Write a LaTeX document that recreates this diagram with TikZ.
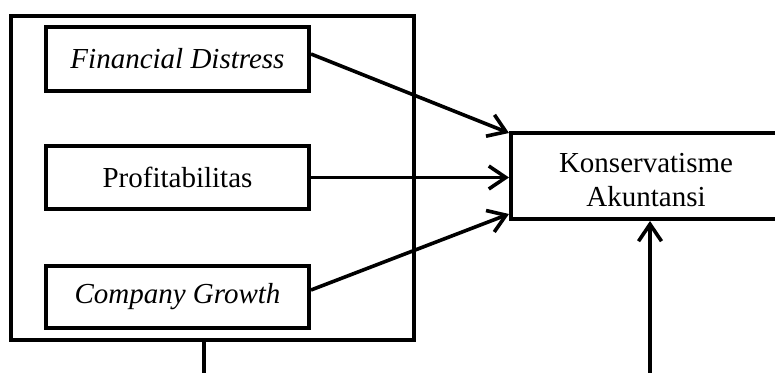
\documentclass[tikz,border=0pt]{standalone}
\usepackage{fontspec}
\setmainfont{Liberation Serif}
\usetikzlibrary{arrows.meta}
\begin{document}
\begin{tikzpicture}[x=1pt,y=-1pt,
  every node/.style={font=\fontsize{29}{34}\selectfont},
  varbox/.style={draw, line width=4pt, minimum width=263pt, inner sep=0pt, align=center},
  frame/.style={draw, line width=4pt},
  conn/.style={line width=3.6pt, -{Straight Barb[length=17pt,width=23pt,line width=3.6pt]}},
  plain/.style={line width=3.6pt}]
\useasboundingbox (0,0) rectangle (775,372);
\clip (0,0) rectangle (775,372);
\fill[white] (0,0) rectangle (775,372);
% outer frame
\node[frame, minimum width=403pt, minimum height=324pt, inner sep=0pt] (outer) at (212.5,178) {};
\node[varbox, minimum height=64pt] (fd) at (177.5,59) {\itshape Financial Distress};
\node[varbox, minimum height=63pt] (prof) at (177.5,177.5) {Profitabilitas};
\node[varbox, minimum height=62pt] (cg) at (177.5,297) {\itshape Company Growth};
\node[draw, line width=4pt, minimum width=279pt, minimum height=86pt, inner sep=0pt] (kon) at (650.5,176) {};
\node[align=center] (konlabel) at (646,180) {Konservatisme\\Akuntansi};
\coordinate (bl) at (204,380);
\coordinate (br) at (650,380);
\draw[conn] ([yshift=5pt]fd.east) -- ([yshift=-2pt]kon.north west);
\draw[conn] (prof.east) -- (prof.east -| kon.west);
\draw[conn] ([yshift=7pt]cg.east) -- ([yshift=7pt]kon.south west);
\draw[plain] (outer.south -| bl) -- (bl);
\draw[conn] (br) -- (kon.south -| br);
\end{tikzpicture}
\end{document}
